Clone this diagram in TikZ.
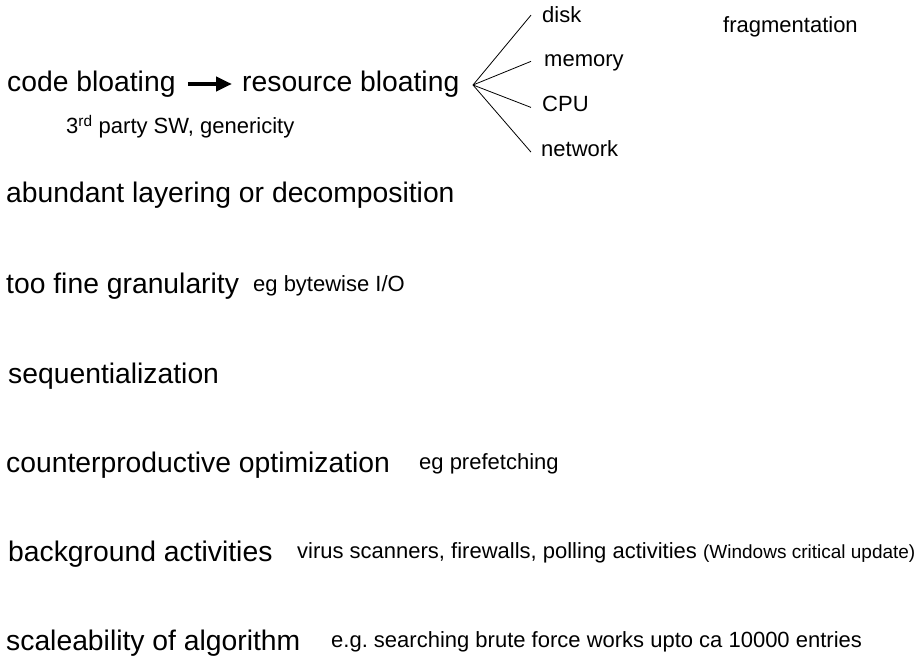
\documentclass[tikz,border=0pt]{standalone}
\usepackage{fontspec}
\setmainfont{Liberation Sans}
\usetikzlibrary{arrows.meta}
\frenchspacing
\begin{document}
\begin{tikzpicture}[x=1pt,y=1pt,
  big/.style={anchor=base west,inner sep=0pt,font=\fontsize{28.3}{32}\selectfont},
  small/.style={anchor=base west,inner sep=0pt,font=\fontsize{22}{25}\selectfont},
  fanline/.style={line width=0.8pt},
  bigarrow/.style={line width=4.5pt,-{Triangle[length=16pt,width=14pt]},shorten <=12pt,shorten >=10pt}]
\useasboundingbox (0,0) rectangle (920,-660);
% row 1
\node[big] (cb) at (7,-92) {code bloating};
\node[big] (rb) at (242,-92) {resource bloating};
\draw[bigarrow] (cb.east |- 0,-84) -- (rb.west |- 0,-84);
\node[small] (party) at (66,-134) {3\textsuperscript{rd} party SW, genericity};
\coordinate (apex) at (473,-85);
\node[small] (disk) at (542,-23) {disk};
\node[small] (memory) at (544,-67) {memory};
\node[small] (cpu) at (542,-112) {CPU};
\node[small] (network) at (541,-157) {network};
\node[small] (frag) at (723,-33) {fragmentation};
\draw[fanline] (apex) -- ([xshift=-11pt]disk.west);
\draw[fanline] (apex) -- ([xshift=-13pt,yshift=2pt]memory.west);
\draw[fanline] (apex) -- ([xshift=-11pt,yshift=-3pt]cpu.west);
\draw[fanline] (apex) -- ([xshift=-10pt,yshift=-3pt]network.west);
% other rows
\node[big] (layer) at (6,-203) {abundant layering or decomposition};
\node[big] (gran) at (6,-293) {too fine granularity};
\node[small] (byte) at (253,-291) {eg bytewise I/O};
\node[big] (seq) at (8,-383) {sequentialization};
\node[big] (counter) at (6,-472) {counterproductive optimization};
\node[small] (pref) at (419,-469) {eg prefetching};
\node[big] (bg) at (8,-561) {background activities};
\node[small] (virus) at (297,-558) {virus scanners, firewalls, polling activities \fontsize{19}{22}\selectfont(Windows critical update)};
\node[big] (scale) at (6,-650) {scaleability of algorithm};
\node[small] (search) at (331,-647) {e.g. searching brute force works upto ca 10000 entries};
\end{tikzpicture}
\end{document}
